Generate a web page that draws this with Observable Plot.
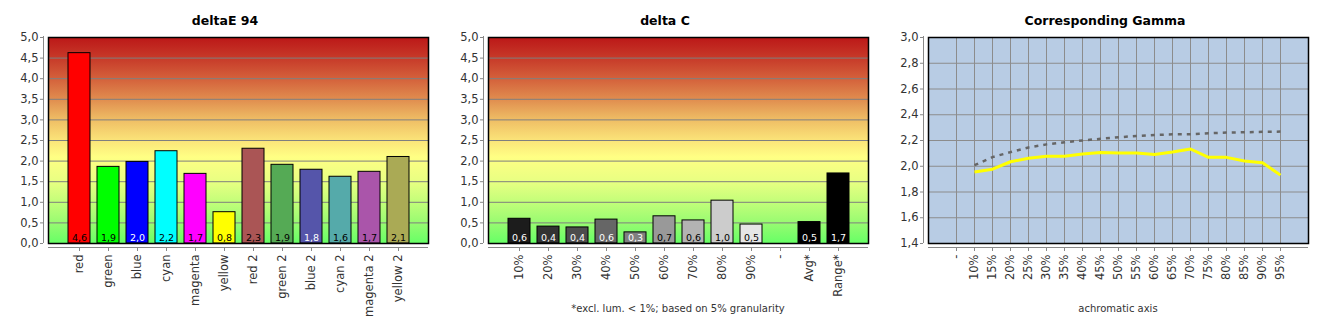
<!DOCTYPE html>
<html>
<head>
<meta charset="utf-8">
<script src="https://cdn.jsdelivr.net/npm/d3@7"></script>
<script src="https://cdn.jsdelivr.net/npm/@observablehq/plot@0.6"></script>
<style>
  html, body { margin: 0; padding: 0; background: #fff; }
  #root { position: relative; width: 1330px; height: 330px; overflow: hidden; font-family: "DejaVu Sans", sans-serif; }
  .panel { position: absolute; top: 0; height: 330px; }
  .title { position: absolute; top: 13px; left: 0; width: 450px; text-align: center; font: bold 12.5px/15px "DejaVu Sans", sans-serif; color: #000; }
  .note { position: absolute; top: 302px; text-align: center; font: 10px/13px "DejaVu Sans", sans-serif; color: #333; }
  svg { display: block; }
</style>
</head>
<body>
<div id="root"></div>
<script>
// ---------- data ----------
const titles = ["deltaE 94", "delta C", "Corresponding Gamma"];

const colorCategories = ["red", "green", "blue", "cyan", "magenta", "yellow", "red 2", "green 2", "blue 2", "cyan 2", "magenta 2", "yellow 2"];
const deltaE94 = [4.62, 1.86, 1.98, 2.24, 1.69, 0.76, 2.30, 1.91, 1.79, 1.62, 1.74, 2.10];
const colorBarFills = ["#ff0000", "#00ff00", "#0000ff", "#00ffff", "#ff00ff", "#ffff00", "#aa5555", "#55aa55", "#5555aa", "#55aaaa", "#aa55aa", "#aaaa55"];
const colorLabelFills = ["#000", "#000", "#fff", "#000", "#000", "#000", "#000", "#000", "#fff", "#000", "#000", "#000"];

const greyCategories = ["10%", "20%", "30%", "40%", "50%", "60%", "70%", "80%", "90%", "-", "Avg*", "Range*"];
const deltaC = [0.60, 0.41, 0.39, 0.58, 0.27, 0.66, 0.56, 1.04, 0.46, null, 0.52, 1.70];
const greyBarFills = ["#1c1c1c", "#333333", "#4d4d4d", "#666666", "#808080", "#999999", "#b3b3b3", "#cccccc", "#e6e6e6", "none", "#000000", "#000000"];
const greyLabelFills = ["#fff", "#fff", "#fff", "#fff", "#fff", "#000", "#000", "#000", "#000", "#000", "#fff", "#fff"];
const deltaCNote = "*excl. lum. < 1%; based on 5% granularity";

const gammaCategories = ["-", "10%", "15%", "20%", "25%", "30%", "35%", "40%", "45%", "50%", "55%", "60%", "65%", "70%", "75%", "80%", "85%", "90%", "95%"];
const gammaMeasured = [null, 1.955, 1.977, 2.035, 2.062, 2.078, 2.078, 2.095, 2.107, 2.102, 2.102, 2.092, 2.111, 2.134, 2.069, 2.069, 2.041, 2.028, 1.931];
const gammaTarget = [null, 2.008, 2.071, 2.110, 2.146, 2.170, 2.186, 2.200, 2.213, 2.225, 2.235, 2.243, 2.248, 2.249, 2.256, 2.262, 2.264, 2.267, 2.269];
const gammaNote = "achromatic axis";

const deltaTicks = [0, 0.5, 1, 1.5, 2, 2.5, 3, 3.5, 4, 4.5, 5];
const gammaTicks = [1.4, 1.6, 1.8, 2.0, 2.2, 2.4, 2.6, 2.8, 3.0];

const gradientStops = [
  [0.00, "#bc1818"], [0.10, "#c73a29"], [0.20, "#d4613b"], [0.30, "#e08d4f"],
  [0.40, "#efbe65"], [0.50, "#fbe479"], [0.58, "#ffff84"], [0.70, "#e8ff82"],
  [0.80, "#c2fe79"], [0.90, "#98fb71"], [1.00, "#66ff66"]
];

// ---------- helpers ----------
const fmt = d => d.toFixed(1).replace(".", ",");
const root = document.getElementById("root");
const FONT = "11.5px";

function panel(left, width) {
  const div = document.createElement("div");
  div.className = "panel";
  div.style.left = left + "px";
  div.style.width = width + "px";
  root.appendChild(div);
  return div;
}
function addTitle(div, text) {
  const t = document.createElement("div");
  t.className = "title";
  t.textContent = text;
  div.appendChild(t);
}
function addNote(div, text) {
  const n = document.createElement("div");
  n.className = "note";
  n.style.left = "48px";
  n.style.width = "380px";
  n.textContent = text;
  div.appendChild(n);
}
function addGradient(svg, id) {
  const defs = d3.select(svg).insert("defs", ":first-child");
  const g = defs.append("linearGradient").attr("id", id)
    .attr("x1", 0).attr("y1", 0).attr("x2", 0).attr("y2", 1);
  for (const [o, c] of gradientStops) g.append("stop").attr("offset", o).attr("stop-color", c);
}
function addYAxisLine(svg, left, top, bottom) {
  d3.select(svg).append("line")
    .attr("x1", left - 4.5).attr("x2", left - 4.5)
    .attr("y1", top - 1).attr("y2", bottom)
    .attr("stroke", "#888").attr("stroke-width", 1);
}

const M = {top: 37, bottom: 87, left: 48};

function barPanel(left, width, cats, values, fills, labelFills, gradId, title, note) {
  const data = cats.map((c, i) => ({cat: c, value: values[i], fill: fills[i], label: labelFills[i]}));
  const bars = data.filter(d => d.value != null);
  const div = panel(left, width);
  const svg = Plot.plot({
    width, height: 330,
    marginTop: M.top, marginBottom: M.bottom, marginLeft: M.left, marginRight: width - 428,
    style: {fontFamily: "DejaVu Sans, sans-serif", fontSize: FONT, color: "#333", background: "transparent"},
    x: {type: "band", domain: cats, paddingInner: 0.25, paddingOuter: 0.65, axis: null},
    y: {domain: [0, 5], axis: null},
    color: {type: "identity"},
    marks: [
      Plot.frame({fill: `url(#${gradId})`}),
      Plot.ruleY(deltaTicks.slice(1, -1), {stroke: "#7f7f7f", strokeWidth: 1}),
      Plot.barY(bars, {x: "cat", y: "value", fill: "fill", stroke: "#000", strokeWidth: 1}),
      Plot.text(bars, {x: "cat", y: () => 0, text: d => fmt(d.value), fill: "label", lineAnchor: "bottom", dy: -3, fontSize: 9.5}),
      Plot.frame({stroke: "#000", strokeWidth: 1.5}),
      Plot.axisY({ticks: deltaTicks, tickFormat: fmt, tickSize: 3, tickPadding: 2, dx: -5, stroke: "#888", fill: "#333", label: null}),
      Plot.axisX({tickRotate: -90, tickSize: 4, tickPadding: 3, dy: 4, stroke: "#888", fill: "#333", label: null}),
      Plot.ruleY([0], {dy: 4, stroke: "#888"})
    ]
  });
  addGradient(svg, gradId);
  addYAxisLine(svg, M.left, M.top, 330 - M.bottom);
  div.appendChild(svg);
  addTitle(div, title);
  if (note) addNote(div, note);
}

barPanel(0, 440, colorCategories, deltaE94, colorBarFills, colorLabelFills, "bgGradA", titles[0]);
barPanel(440, 440, greyCategories, deltaC, greyBarFills, greyLabelFills, "bgGradB", titles[1], deltaCNote);

// gamma panel
(function () {
  const width = 450, left = 880;
  const div = panel(left, width);
  const data = gammaCategories.map((c, i) => ({cat: c, measured: gammaMeasured[i], target: gammaTarget[i]}));
  const lineData = data.filter(d => d.measured != null);
  const svg = Plot.plot({
    width, height: 330,
    marginTop: M.top, marginBottom: M.bottom, marginLeft: M.left, marginRight: width - 428,
    style: {fontFamily: "DejaVu Sans, sans-serif", fontSize: FONT, color: "#333", background: "transparent"},
    x: {type: "point", domain: gammaCategories, padding: 1.43, axis: null},
    y: {domain: [1.4, 3.0], axis: null},
    marks: [
      Plot.frame({fill: "#b8cce4"}),
      Plot.ruleX(gammaCategories, {stroke: "#8c8c8c", strokeWidth: 1}),
      Plot.ruleY(gammaTicks.slice(1, -1), {stroke: "#8c8c8c", strokeWidth: 1}),
      Plot.line(lineData, {x: "cat", y: "target", stroke: "#666", strokeWidth: 2.5, strokeDasharray: "4,5", strokeLinecap: "butt"}),
      Plot.line(lineData, {x: "cat", y: "measured", stroke: "#ffff00", strokeWidth: 3, strokeLinecap: "butt"}),
      Plot.frame({stroke: "#000", strokeWidth: 1.5}),
      Plot.axisY({ticks: gammaTicks, tickFormat: fmt, tickSize: 3, tickPadding: 2, dx: -5, stroke: "#888", fill: "#333", label: null}),
      Plot.axisX({tickRotate: -90, tickSize: 4, tickPadding: 3, dy: 4, stroke: "#888", fill: "#333", label: null}),
      Plot.ruleY([1.4], {dy: 4, stroke: "#888"})
    ]
  });
  addYAxisLine(svg, M.left, M.top, 330 - M.bottom);
  div.appendChild(svg);
  addTitle(div, titles[2]);
  addNote(div, gammaNote);
})();
</script>
</body>
</html>
